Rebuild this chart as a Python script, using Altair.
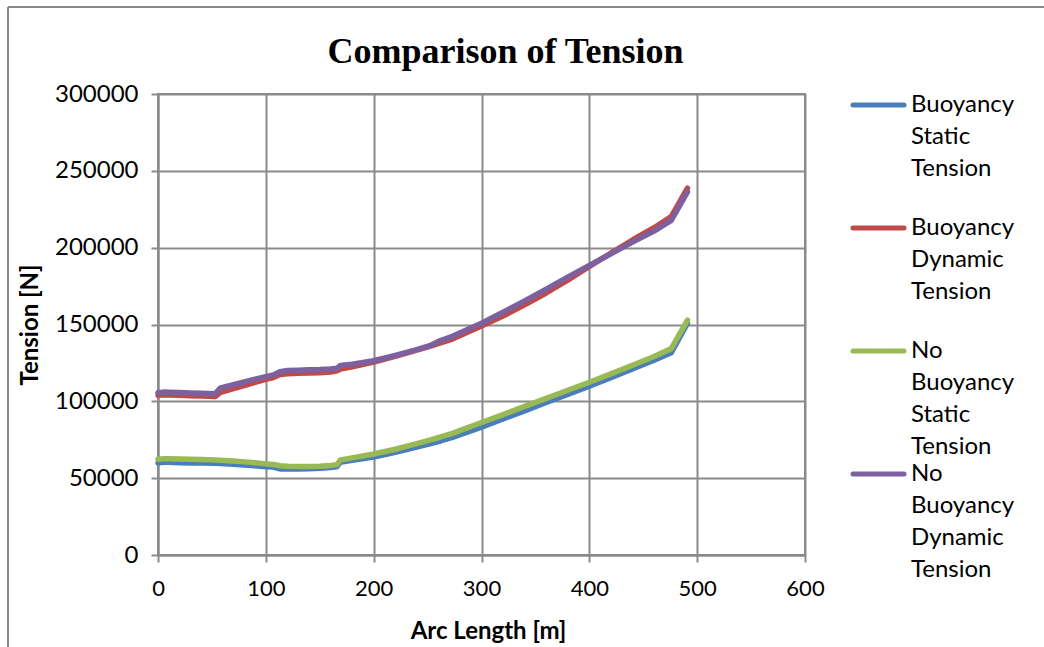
import altair as alt
import pandas as pd

arc_length = [0, 5, 10, 20, 30, 40, 53, 58, 70, 80, 90, 100, 107, 113, 120, 130, 140, 150,
              160, 166, 169, 180, 200, 220, 240, 252, 262, 273, 300, 320, 340, 360, 380,
              400, 420, 440, 460, 476, 491]

buoy_static = [59900, 60300, 60300, 60100, 59900, 59800, 59700, 59500, 59000, 58500, 58000,
               57500, 57200, 56000, 55900, 56000, 56200, 56500, 57000, 57400, 60400, 61600,
               63800, 66800, 70300, 72300, 74200, 76500, 83200, 88500, 93800, 99300, 104500,
               109800, 115400, 121000, 126700, 131700, 150800]

buoy_dynamic = [104000, 104300, 104200, 103900, 103600, 103400, 103100, 105800, 108300,
                110300, 112300, 114300, 115500, 117400, 118000, 118200, 118400, 118600,
                119100, 119800, 121000, 122500, 125600, 129300, 133300, 135800, 138000,
                140500, 149000, 155500, 162800, 170500, 178800, 187800, 196500, 205000,
                213000, 220200, 238800]

nobuoy_static = [62300, 62700, 62700, 62500, 62300, 62100, 61900, 61700, 61100, 60600, 60000,
                 59300, 58900, 58100, 57800, 57600, 57600, 57800, 58300, 58800, 61800, 63200,
                 65700, 68800, 72500, 74800, 76800, 79200, 86200, 91400, 96700, 101900,
                 107200, 112400, 117900, 123500, 129200, 134300, 152800]

nobuoy_dynamic = [105600, 106000, 105900, 105700, 105400, 105200, 105000, 108800, 110800,
                  112600, 114400, 116100, 117200, 119300, 120100, 120300, 120500, 120700,
                  121100, 121600, 123300, 124200, 126400, 129900, 133600, 136200, 139600,
                  142300, 150800, 158000, 165400, 173000, 180800, 188500, 196000, 203600,
                  210800, 217800, 236300]

series_names = ["Buoyancy Static Tension", "Buoyancy Dynamic Tension",
                "No Buoyancy Static Tension", "No Buoyancy Dynamic Tension"]
series_colors = ["#4A7EBB", "#BE4B48", "#98B954", "#7D60A0"]
draw_order = [0, 1, 2, 3]

x_ticks = [0, 100, 200, 300, 400, 500, 600]
y_ticks = [0, 50000, 100000, 150000, 200000, 250000, 300000]

values = [buoy_static, buoy_dynamic, nobuoy_static, nobuoy_dynamic]
rows = []
for k, (name, vals) in enumerate(zip(series_names, values)):
    for a, v in zip(arc_length, vals):
        rows.append({"arc": a, "tension": v, "series": name, "order": draw_order[k]})
df = pd.DataFrame(rows)

legend_df = pd.DataFrame({
    "series": series_names,
    "idx": [0, 1, 2, 3],
    "label": [n.replace(" ", "\n") for n in series_names],
})

W, H = 647, 461
GRID = "#8A8A8A"
FONT = "Lato"

color_scale = alt.Scale(domain=series_names, range=series_colors)

lines = alt.Chart(df).mark_line(strokeWidth=5.5, strokeCap="round", strokeJoin="round").encode(
    x=alt.X("arc:Q", scale=alt.Scale(domain=[0, 600], nice=False),
            axis=alt.Axis(values=x_ticks, title="Arc Length [m]", titleX=330, titleY=76,
                          titleBaseline="middle", titleAlign="center", labelFlush=False,
                          labelFontSize=22, labelPadding=16)),
    y=alt.Y("tension:Q", scale=alt.Scale(domain=[0, 300000], nice=False),
            axis=alt.Axis(values=y_ticks, format="d", title="Tension [N]", titleX=-128,
                          titleY=H / 2, titleBaseline="middle", titleAlign="center",
                          labelFontSize=24, labelPadding=13, labelFlush=False)),
    color=alt.Color("series:N", scale=color_scale, legend=None),
    detail="series:N",
    order=alt.Order("order:Q"),
)

# legend (manual, multi-line labels like the original)
leg_scale = alt.Scale(domain=[0, 3], range=[11, 380])
leg_rules = alt.Chart(legend_df).mark_rule(strokeWidth=5, strokeCap="round").encode(
    x=alt.value(695), x2=alt.value(746),
    y=alt.Y("idx:Q", scale=leg_scale, axis=None),
    color=alt.Color("series:N", scale=color_scale, legend=None),
)
leg_text = alt.Chart(legend_df).mark_text(
    align="left", baseline="line-top", lineBreak="\n", lineHeight=32, dy=-16,
    font=FONT, fontSize=24, color="#000000",
).encode(
    x=alt.value(753),
    y=alt.Y("idx:Q", scale=leg_scale, axis=None),
    text="label:N",
)

# outer frame of the figure
frame_df = pd.DataFrame({"k": [0]})
frame_left = alt.Chart(frame_df).mark_rule(color=GRID, strokeWidth=2).encode(
    x=alt.value(-150), y=alt.value(-87), y2=alt.value(H + 92))
frame_top = alt.Chart(frame_df).mark_rule(color=GRID, strokeWidth=2).encode(
    x=alt.value(-150), x2=alt.value(W + 239), y=alt.value(-87))

chart = alt.layer(lines, leg_rules, leg_text, frame_left, frame_top).resolve_scale(
    y="independent"
).properties(
    width=W, height=H,
    autosize=alt.AutoSizeParams(type="none"),
    padding={"left": 158, "top": 94, "right": 239, "bottom": 92},
    title=alt.TitleParams("Comparison of Tension", font="Liberation Serif", fontSize=36,
                          fontWeight="bold", color="#000000", anchor="middle",
                          frame="group", baseline="bottom", offset=0, dx=24, dy=101),
).configure_view(
    stroke=GRID, strokeWidth=2
).configure_axis(
    grid=True, gridColor=GRID, gridWidth=2, gridOpacity=1,
    domainColor=GRID, domainWidth=2, tickColor=GRID, tickWidth=2, tickSize=7,
    labelFont=FONT, labelColor="#000000",
    titleFont=FONT, titleFontSize=24, titleFontWeight="bold", titleColor="#000000",
)

chart.save("out.html", embed_options={"renderer": "svg", "actions": False})
